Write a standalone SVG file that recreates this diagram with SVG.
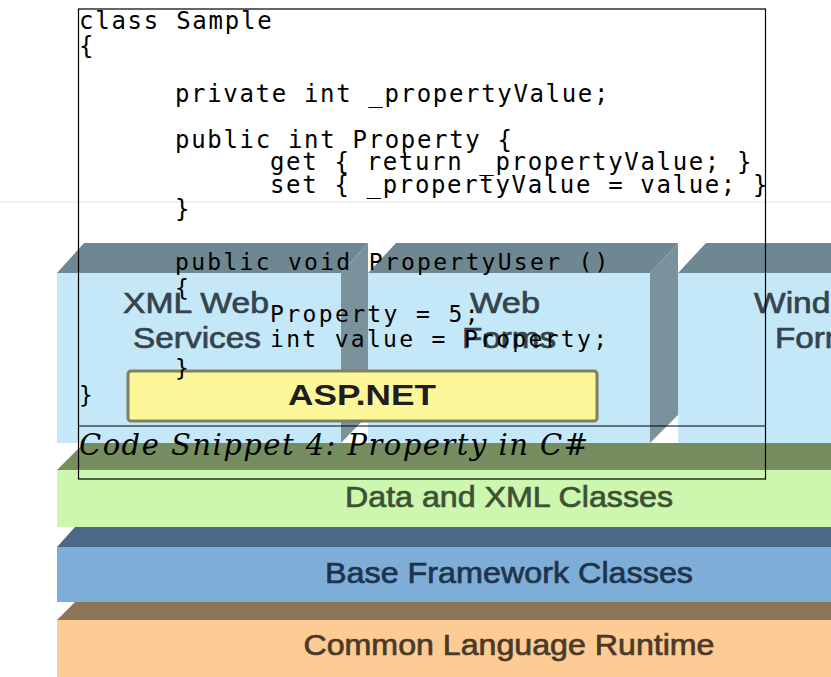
<svg xmlns="http://www.w3.org/2000/svg" width="831" height="677" viewBox="0 0 831 677">
<style>
.top{fill:#6e8791}
.side{fill:#7a929b}
.front{fill:#c5e8f8}
.lbl{font-family:"Liberation Sans",Arial,sans-serif;font-size:30px;text-anchor:middle;stroke-width:0.7px}
.blk{fill:#34444d;stroke:#34444d}
.code{font-family:"DejaVu Sans Mono",monospace;font-size:23px;fill:#000}
.up{font-size:24px}
.cap{font-family:"DejaVu Serif",serif;font-style:italic;font-size:29px;fill:#000}
.box{fill:none;stroke:#000;stroke-width:1.2}
</style>
<rect width="831" height="677" fill="#fff"/>
<line x1="0" y1="202" x2="831" y2="202" stroke="#e2e2e2" stroke-width="1"/>

<g id="stack">
  <g id="band-data">
    <polygon points="57,470 84,443 831,443 831,470" fill="#758d5f"/>
    <rect x="57" y="470" width="774" height="57" fill="#cdf6ae"/>
    <text x="509" y="507" class="lbl" fill="#3d5234" stroke="#3d5234" textLength="328" lengthAdjust="spacingAndGlyphs">Data and XML Classes</text>
  </g>
  <g id="band-base">
    <polygon points="57,547 75,527 831,527 831,547" fill="#4b6886"/>
    <rect x="57" y="547" width="774" height="55" fill="#7eaed8"/>
    <text x="509" y="583" class="lbl" fill="#1e344d" stroke="#1e344d" textLength="368" lengthAdjust="spacingAndGlyphs">Base Framework Classes</text>
  </g>
  <g id="band-clr">
    <polygon points="57,620 75,602 831,602 831,620" fill="#8c7457"/>
    <rect x="57" y="620" width="774" height="57" fill="#fdcb94"/>
    <text x="509" y="655" class="lbl" fill="#4a3a28" stroke="#4a3a28" textLength="411" lengthAdjust="spacingAndGlyphs">Common Language Runtime</text>
  </g>
  <g id="block-xmlweb">
    <polygon class="top" points="57,273 84,243 368,243 341,273"/>
    <polygon class="side" points="341,273 368,243 368,415 341,443"/>
    <rect class="front" x="57" y="273" width="284" height="170"/>
    <text x="196" y="313" class="lbl blk" textLength="146" lengthAdjust="spacingAndGlyphs">XML Web</text>
    <text x="197" y="348" class="lbl blk" textLength="128" lengthAdjust="spacingAndGlyphs">Services</text>
  </g>
  <g id="block-webforms">
    <polygon class="top" points="368,273 396,243 678,243 650,273"/>
    <polygon class="side" points="650,273 678,243 678,415 650,443"/>
    <rect class="front" x="368" y="273" width="282" height="170"/>
    <text x="505" y="313" class="lbl blk" textLength="70" lengthAdjust="spacingAndGlyphs">Web</text>
    <text x="509" y="348" class="lbl blk" textLength="94" lengthAdjust="spacingAndGlyphs">Forms</text>
  </g>
  <g id="block-winforms">
    <polygon class="top" points="678,273 706,243 831,243 831,273"/>
    <rect class="front" x="678" y="273" width="153" height="170"/>
    <text x="822" y="313" class="lbl blk" textLength="136" lengthAdjust="spacingAndGlyphs">Windows</text>
    <text x="822" y="348" class="lbl blk" textLength="94" lengthAdjust="spacingAndGlyphs">Forms</text>
  </g>
  <g id="asp-net">
    <rect x="128" y="371" width="469" height="50" rx="3" fill="#fdf79a" stroke="#7f7f62" stroke-width="3"/>
    <text x="362" y="405" class="lbl" fill="#1e1e1e" font-weight="bold" textLength="148" lengthAdjust="spacingAndGlyphs">ASP.NET</text>
  </g>
</g>

<g id="code-snippet">
  <rect class="box" x="78.5" y="9" width="687" height="470"/>
  <line class="box" x1="78.5" y1="426" x2="765.5" y2="426"/>
  <text class="code up" x="79" y="29" textLength="192.6">class Sample</text>
  <text class="code up" x="79" y="54">{</text>
  <text class="code up" x="175" y="102" textLength="433.4">private int _propertyValue;</text>
  <text class="code up" x="175" y="148" textLength="337">public int Property {</text>
  <text class="code up" x="270" y="170" textLength="481.5">get { return _propertyValue; }</text>
  <text class="code up" x="270" y="193" textLength="497.5">set { _propertyValue = value; }</text>
  <text class="code up" x="175" y="217">}</text>
  <text class="code" x="175" y="270" textLength="433.4">public void PropertyUser ()</text>
  <text class="code" x="175" y="296">{</text>
  <text class="code" x="270" y="322" textLength="208.6">Property = 5;</text>
  <text class="code" x="270" y="347" textLength="337">int value = Property;</text>
  <text class="code" x="175" y="376">}</text>
  <text class="code" x="79" y="403">}</text>
  <text class="cap" x="79" y="455" textLength="509">Code Snippet 4: Property in C#</text>
</g>
</svg>
